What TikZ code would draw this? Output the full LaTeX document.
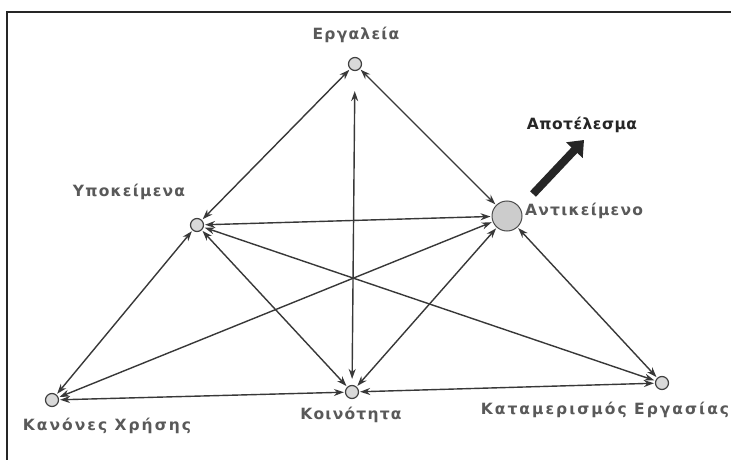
\documentclass[tikz,border=0pt]{standalone}
\usepackage{fontspec}
\setmainfont{DejaVu Sans}[LetterSpace=8]
\usetikzlibrary{arrows.meta}
\begin{document}
\begin{tikzpicture}[x=1pt,y=-1pt,
  pt/.style={circle,draw=black!75,fill=black!15,line width=1.2pt,inner sep=0pt,minimum size=13pt},
  bigpt/.style={circle,draw=black!70,fill=black!20,line width=1pt,inner sep=0pt,minimum size=30pt},
  lbl/.style={text=black!65,font=\fontsize{15.5}{17}\selectfont\bfseries,inner sep=0pt},
  wide/.style={font=\fontsize{15.5}{17}\selectfont\bfseries\addfontfeature{LetterSpace=13}},
  tight/.style={font=\fontsize{15.5}{17}\selectfont\bfseries\addfontfeature{LetterSpace=3}},
  link/.style={draw=black!78,line width=1.4pt,{Stealth[length=10pt,width=7pt]}-{Stealth[length=10pt,width=7pt]},shorten <=1pt,shorten >=1pt},
  frame/.style={draw=black!85,line width=2pt}]
\useasboundingbox (0,0) rectangle (731,460);
\fill[white] (0,0) rectangle (731,460);
% frame
\coordinate (f1) at (7,470);
\coordinate (f2) at (7,12);
\coordinate (f3) at (740,12);
\draw[frame] (f1) -- (f2) -- (f3);
% nodes
\node[pt] (E) at (355,64) {};
\node[pt] (Y) at (197,225) {};
\node[bigpt] (A) at (507,216) {};
\node[pt] (K) at (52,400) {};
\node[pt] (C) at (352,392) {};
\node[pt] (D) at (662,383) {};
% labels
\node[lbl] (lE) at (356,35) {Εργαλεία};
\node[lbl] (lY) at (129,192) {Υποκείμενα};
\node[lbl,anchor=west] (lA) at (525,211) {Αντικείμενο};
\node[lbl,tight,text=black!85] (lR) at (582,125) {Αποτέλεσμα};
\node[lbl,wide] (lK) at (107,426) {Κανόνες Χρήσης};
\node[lbl] (lC) at (351,415) {Κοινότητα};
\node[lbl,wide] (lD) at (605,410) {Καταμερισμός Εργασίας};
% links
\draw[link] (E) -- (Y);
\draw[link] (E) -- (A);
\draw[link,shorten <=20pt,shorten >=6pt] (E) -- (C);
\draw[link] (Y) -- (A);
\draw[link] (Y) -- (K);
\draw[link] (Y) -- (C);
\draw[link] (Y) -- (D);
\draw[link] (A) -- (K);
\draw[link] (A) -- (C);
\draw[link] (A) -- (D);
\draw[link] (K) -- (C);
\draw[link] (C) -- (D);
% result arrow
\coordinate (rs) at (533,194);
\coordinate (re) at (584,140);
\draw[line width=8pt,black!85,-{Triangle[length=14pt,width=22pt]}] (rs) -- (re);
\end{tikzpicture}
\end{document}
